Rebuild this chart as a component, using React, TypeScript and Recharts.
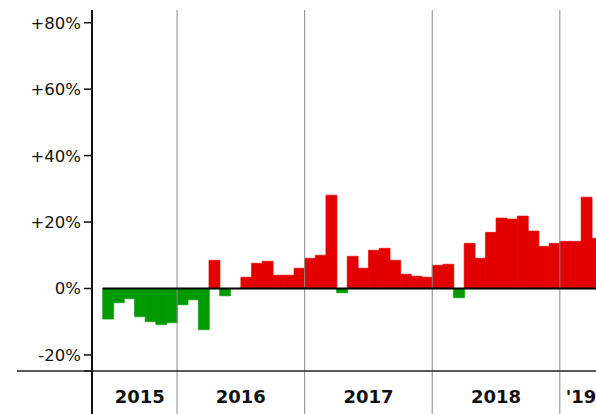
import { BarChart, Bar, Cell, XAxis, YAxis, ReferenceLine, ReferenceArea } from "recharts";

// monthly change in %
const change2015 = [-9.2, -4.3, -3.1, -8.5, -10.0, -10.9, -10.3]; // Jun–Dec
const change2016 = [-4.9, -3.4, -12.4, 8.5, -2.2, 0, 3.4, 7.6, 8.2, 4.0, 4.0, 6.1];
const change2017 = [9.1, 10.0, 28.1, -1.3, 9.7, 6.1, 11.5, 12.1, 8.5, 4.3, 3.7, 3.4];
const change2018 = [7.0, 7.3, -2.8, 13.6, 9.1, 16.9, 21.2, 20.9, 21.8, 17.3, 12.7, 13.6];
const change2019 = [14.2, 14.2, 27.5, 15.1]; // Jan–Apr

const yearLabels = ["2015", "2016", "2017", "2018", "'19"];
const yTicks = [-20, 0, 20, 40, 60, 80];

const RED = "#e30000";
const GREEN = "#009a00";
const FONT = "DejaVu Sans, sans-serif";

const AXIS_BASE = -24.83; // where the horizontal axis line sits
const Y_DOMAIN: [number, number] = [-37.78, 83.83];

type Row = { m: string; v: number | null };

const mm = (n: number) => (n < 10 ? "0" + n : "" + n);

const series: { year: number; first: number; vals: number[] }[] = [
  { year: 2015, first: 6, vals: change2015 },
  { year: 2016, first: 1, vals: change2016 },
  { year: 2017, first: 1, vals: change2017 },
  { year: 2018, first: 1, vals: change2018 },
  { year: 2019, first: 1, vals: change2019 },
];

const rows: Row[] = [{ m: "2015-05", v: null }];
series.forEach((s) => s.vals.forEach((v, i) => rows.push({ m: `${s.year}-${mm(s.first + i)}`, v })));
rows.push({ m: "2019-05", v: null });

const spans = series.map((s, i) => ({
  label: yearLabels[i],
  from: `${s.year}-${mm(s.first)}`,
  to: `${s.year}-${mm(s.first + s.vals.length - 1)}`,
}));

const fmt = (v: number) => (v > 0 ? `+${v}%` : `${v}%`);

const YTick = (props: any) => {
  const { x, y, payload } = props;
  if (payload.value === AXIS_BASE) {
    return <line x1={17} x2={620} y1={y} y2={y} stroke="#222" strokeWidth={1.5} />;
  }
  return (
    <text x={x} y={y} dy="0.36em" textAnchor="end" fontSize={16.5} fontFamily={FONT} fill="#111">
      {fmt(payload.value)}
    </text>
  );
};

export default function App() {
  return (
    <div style={{ position: "absolute", left: 0, top: 0, width: 596, height: 414, overflow: "hidden", background: "#fff" }}>
      <BarChart
        width={613}
        height={414}
        data={rows}
        margin={{ top: 10, right: 0, bottom: 0, left: 0 }}
        barCategoryGap={0}
        barGap={0}
      >
        <XAxis dataKey="m" hide height={0} />
        <YAxis
          width={92}
          type="number"
          domain={Y_DOMAIN}
          allowDataOverflow
          ticks={[AXIS_BASE, ...yTicks]}
          interval={0}
          tick={<YTick />}
          tickSize={8}
          tickMargin={3}
          tickLine={{ stroke: "#111", strokeWidth: 1.5 }}
          axisLine={{ stroke: "#111", strokeWidth: 2 }}
        />
        <Bar dataKey="v" isAnimationActive={false}>
          {rows.map((r) => {
            const c = r.v !== null && r.v < 0 ? GREEN : RED;
            return <Cell key={r.m} fill={c} stroke={c} strokeWidth={0.6} />;
          })}
        </Bar>
        {spans.slice(1).map((s) => (
          <ReferenceLine key={s.from} x={s.from} position="start" stroke="#8a8a8a" strokeWidth={1} />
        ))}
        <ReferenceLine
          segment={[
            { x: "2015-06", y: 0 },
            { x: "2019-05", y: 0 },
          ]}
          position="start"
          stroke="#000"
          strokeWidth={2}
        />
        {spans.map((s) => (
          <ReferenceArea
            key={s.label}
            x1={s.from}
            x2={s.to}
            fill="none"
            stroke="none"
            label={{
              value: s.label,
              position: "insideBottom",
              offset: 11,
              fontSize: 18,
              fontWeight: "bold",
              fontFamily: FONT,
              fill: "#111",
            }}
          />
        ))}
      </BarChart>
    </div>
  );
}
